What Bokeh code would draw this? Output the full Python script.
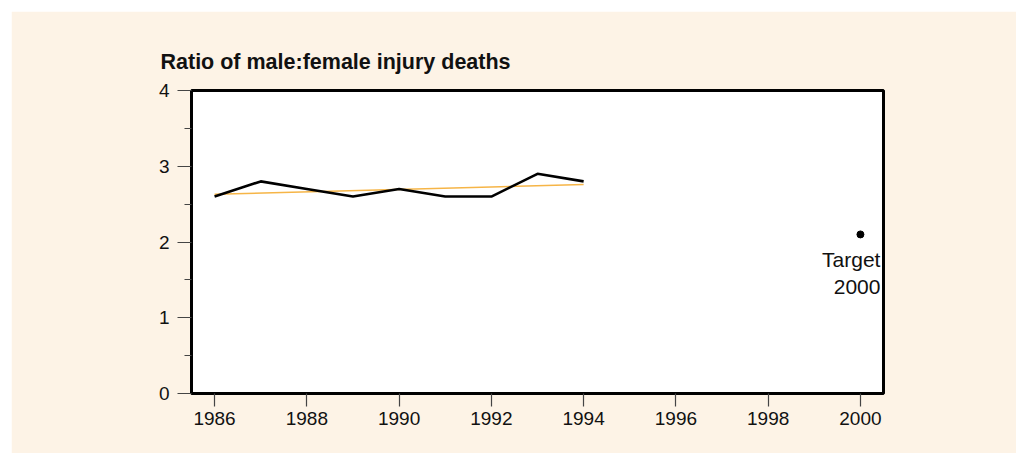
from bokeh.plotting import figure
from bokeh.models import Range1d, FixedTicker
from bokeh.core.properties import value
from bokeh.embed import file_html
from bokeh.resources import INLINE

# ---- data ----
years = [1986, 1987, 1988, 1989, 1990, 1991, 1992, 1993, 1994]
ratio = [2.6, 2.8, 2.7, 2.6, 2.7, 2.6, 2.6, 2.9, 2.8]
trend_years = [1986, 1994]
trend_vals = [2.63, 2.76]
target_year = [2000]
target_val = [2.1]
target_line1 = ["Target"]
target_line2 = ["2000"]
x_ticks = [1986, 1988, 1990, 1992, 1994, 1996, 1998, 2000]
y_ticks = [0, 1, 2, 3, 4]
y_minor = [0.5, 1.5, 2.5, 3.5]
title_text = "Ratio of male:female injury deaths"

FONT = "Liberation Sans"
CREAM = "#FDF3E6"

p = figure(width=1005, height=442, output_backend="svg", toolbar_location=None,
           x_range=Range1d(1985.5, 2000.5), y_range=Range1d(0, 4),
           min_border_left=180, min_border_right=133,
           min_border_top=79, min_border_bottom=60,
           background_fill_color="white", border_fill_color=CREAM,
           title=title_text)
p.margin = (11, 0, 0, 11)

p.grid.visible = False
p.outline_line_color = "black"
p.outline_line_width = 3

p.title.text_font = FONT
p.title.text_font_size = "21.5px"
p.title.text_font_style = "bold"
p.title.text_color = "#111111"
p.title.align = "left"
p.title.offset = -31
p.title.standoff = 34

for ax in (p.xaxis[0], p.yaxis[0]):
    ax.axis_line_color = None
    ax.major_tick_line_color = "#444444"
    ax.minor_tick_line_color = "#444444"
    ax.major_tick_line_width = 1.2
    ax.minor_tick_line_width = 1.2
    ax.major_tick_in = 0
    ax.minor_tick_in = 0
    ax.major_label_text_font = FONT
    ax.major_label_text_font_size = "19px"
    ax.major_label_text_color = "#111111"

p.xaxis.ticker = FixedTicker(ticks=x_ticks)
p.xaxis.major_tick_out = 13
p.xaxis.minor_tick_out = 0
p.xaxis.major_label_standoff = 5

p.yaxis.ticker = FixedTicker(ticks=y_ticks, minor_ticks=y_minor)
p.yaxis.major_tick_out = 14
p.yaxis.minor_tick_out = 7
p.yaxis.major_label_standoff = 8

# trend line
p.line(trend_years, trend_vals, line_color="#F6B547", line_width=1.5)
# data line
p.line(years, ratio, line_color="black", line_width=2.6)
# target point
p.scatter(target_year, target_val, size=7, color="black")
p.text(x=target_year, y=target_val, text=target_line1,
       x_offset=20, y_offset=14,
       text_align="right", text_baseline="top",
       text_font=value(FONT), text_font_size="21px", text_color="#111111")
p.text(x=target_year, y=target_val, text=target_line2,
       x_offset=20, y_offset=46,
       text_align="right", text_baseline="top",
       text_font=value(FONT), text_font_size="21px", text_color="#111111")

open("out.html", "w").write(file_html(p, INLINE))
